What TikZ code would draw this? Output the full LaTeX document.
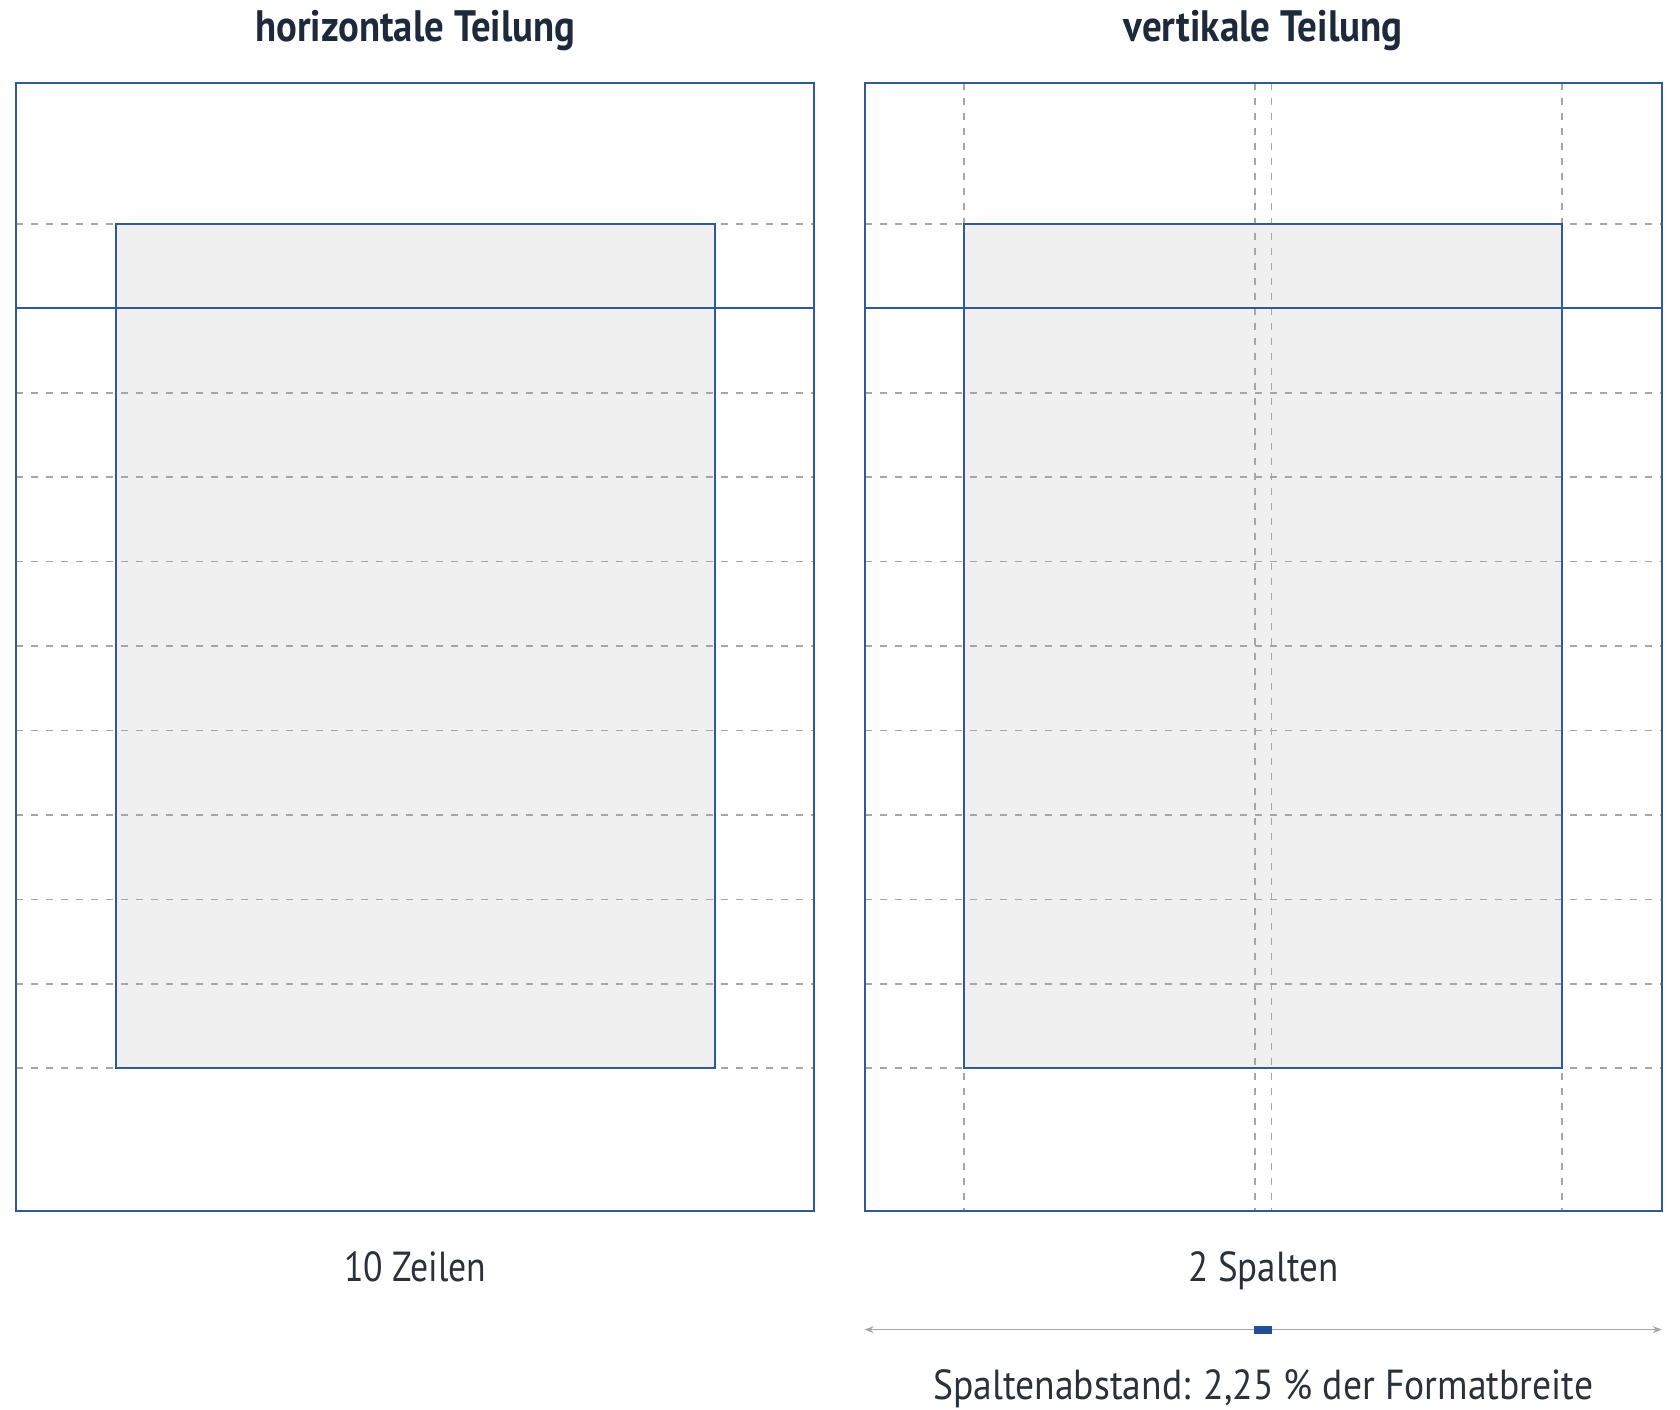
\documentclass[tikz,border=0pt]{standalone}
\usepackage{fontspec}
\setmainfont{PT Sans}
\usepackage{graphicx}
\usetikzlibrary{arrows.meta}

\definecolor{frameBlue}{HTML}{2F5A9A}
\definecolor{boxGray}{HTML}{F0F0F0}
\definecolor{dashGray}{HTML}{A6A6A6}
\definecolor{titleNavy}{HTML}{1E2A3B}
\definecolor{labelGray}{HTML}{2B313B}
\definecolor{markBlue}{HTML}{1F4F99}

\newcommand{\squeezed}[2]{\resizebox{#1}{\height}{#2}}

\begin{document}
\begin{tikzpicture}
    [x=1pt, y=-1pt,
     frameLine/.style={draw=frameBlue, line width=2pt},
     textArea/.style={fill=boxGray},
     gridDash/.style={draw=dashGray, line width=1.7pt, dash pattern=on 7pt off 8pt},
     titleText/.style={text=titleNavy, font=\fontsize{44}{50}\selectfont\bfseries, anchor=base, inner sep=0pt},
     captionText/.style={text=labelGray, font=\fontsize{42}{50}\selectfont, anchor=base, inner sep=0pt},
     spacingArrow/.style={draw=dashGray, line width=1.6pt, {Stealth[length=9pt,width=7pt]}-{Stealth[length=9pt,width=7pt]}},
     gapMark/.style={fill=markBlue, inner sep=0pt, minimum width=18pt, minimum height=8pt},
    ]

    \useasboundingbox (0,0) rectangle (1680,1409);

    % horizontale Teilung
    \node[titleText] (titleRows) at (415.2,41.8) {\squeezed{320pt}{horizontale Teilung}};
    \fill[textArea] (115.7,223.9) rectangle (714.6,1068.2);
    \foreach \row in {0,2,3,...,10}
        \draw[gridDash] (16.1,{223.9+84.43*\row}) -- (814.3,{223.9+84.43*\row});
    \draw[frameLine] (115.7,223.9) rectangle (714.6,1068.2);
    \draw[frameLine] (16.1,82.5) rectangle (814.3,1210.7);
    \draw[frameLine] (16.1,308.3) -- (814.3,308.3);
    \node[captionText] (rowsLabel) at (415.2,1281) {\squeezed{142pt}{10 Zeilen}};

    % vertikale Teilung
    \node[titleText] (titleColumns) at (1263.2,41.8) {\squeezed{279pt}{vertikale Teilung}};
    \fill[textArea] (964.3,223.9) rectangle (1562.1,1068.2);
    \foreach \row in {0,2,3,...,10}
        \draw[gridDash] (864.6,{223.9+84.43*\row}) -- (1661.8,{223.9+84.43*\row});
    \foreach \col in {964.3,1254.9,1271.5,1562.1}
        \draw[gridDash] (\col,82.5) -- (\col,1210.7);
    \draw[frameLine] (964.3,223.9) rectangle (1562.1,1068.2);
    \draw[frameLine] (864.6,82.5) rectangle (1661.8,1210.7);
    \draw[frameLine] (864.6,308.3) -- (1661.8,308.3);
    \node[captionText] (columnsLabel) at (1263.2,1281) {\squeezed{150pt}{2 Spalten}};

    % Spaltenabstand
    \coordinate (spanLeft) at (864.6,1329.6);
    \coordinate (spanRight) at (1661.8,1329.6);
    \draw[spacingArrow] (spanLeft) -- (spanRight);
    \node[gapMark] (gapBar) at (1263.2,1329.6) {};
    \node[captionText] (gapLabel) at (1263.2,1399) {\squeezed{660pt}{Spaltenabstand: 2,25 \% der Formatbreite}};

\end{tikzpicture}
\end{document}
